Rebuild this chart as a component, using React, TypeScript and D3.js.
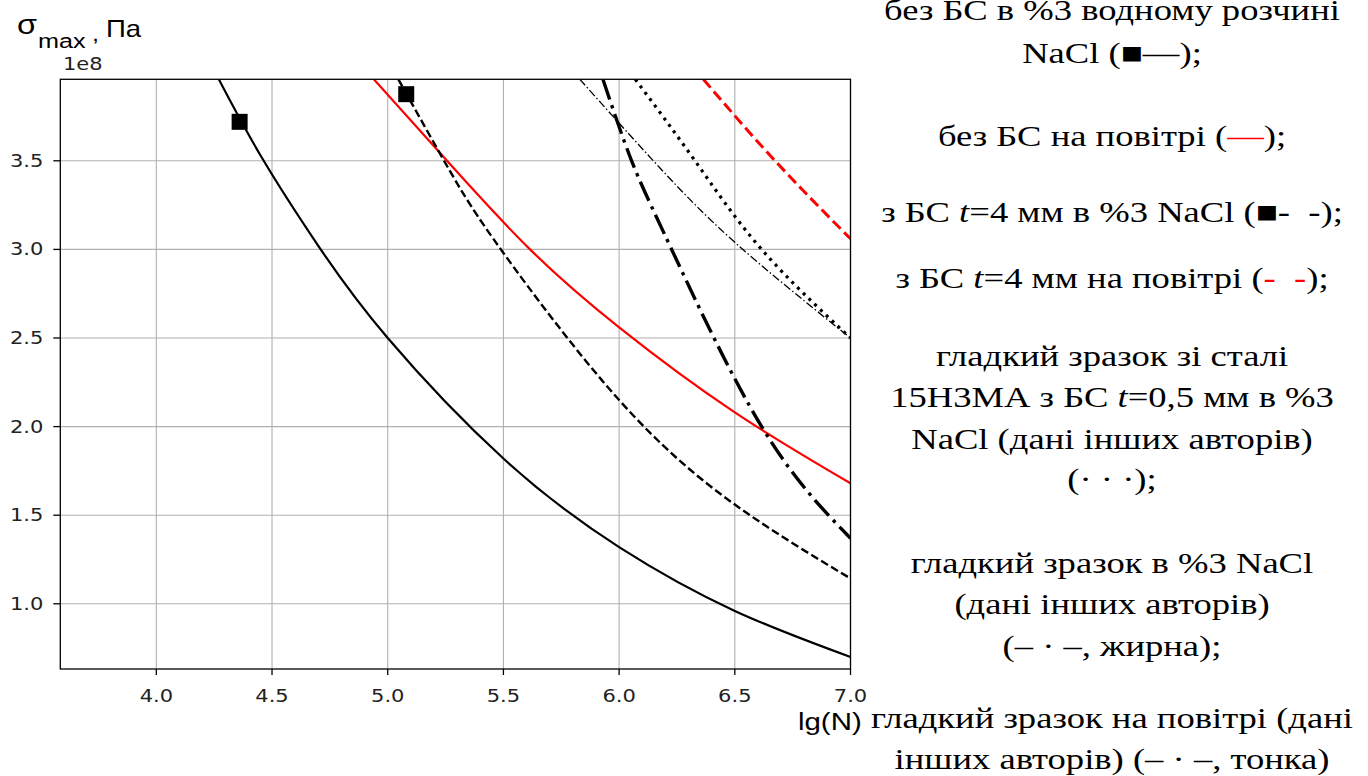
import React from 'react';
import * as d3 from 'd3';

// ---------- data (σ in units of 1e8 Pa, x = lg N) ----------
const xTicks = [4.0, 4.5, 5.0, 5.5, 6.0, 6.5, 7.0];
const yTicks = [1.0, 1.5, 2.0, 2.5, 3.0, 3.5];

// без БС в 3% NaCl (black solid, markers)
const noScNaClX = [4.27, 4.455, 4.70, 5.0, 5.5, 6.0, 6.5, 7.0];
const noScNaClY = [3.96, 3.52, 3.02, 2.5, 1.82, 1.32, 0.96, 0.70];
// без БС на повітрі (red solid)
const noScAirX = [4.94, 5.27, 5.615, 6.0, 6.5, 7.0];
const noScAirY = [3.96, 3.48, 3.0, 2.56, 2.08, 1.68];
// з БС t=4 мм в 3% NaCl (black dashed, marker)
const sc4NaClX = [5.046, 5.27, 5.5, 6.0, 6.5, 7.0];
const sc4NaClY = [3.96, 3.44, 2.98, 2.15, 1.56, 1.143];
// з БС t=4 мм на повітрі (red dashed)
const sc4AirX = [6.364, 6.674, 7.0];
const sc4AirY = [3.96, 3.5, 3.06];
// 15Н3МА з БС t=0,5 мм в 3% NaCl (dotted)
const steelX = [6.07, 6.328, 6.616, 7.0];
const steelY = [3.96, 3.5, 3.0, 2.5];
// гладкий зразок в 3% NaCl (thick dash-dot)
const smoothNaClX = [5.93, 6.054, 6.227, 6.616, 7.0];
const smoothNaClY = [3.96, 3.5, 3.0, 2.0, 1.37];
// гладкий зразок на повітрі (thin dash-dot)
const smoothAirX = [5.83, 6.148, 6.5, 7.0];
const smoothAirY = [3.96, 3.5, 3.04, 2.5];
// measured points (black squares)
const markerX = [4.36, 5.08];
const markerY = [3.72, 3.876];

type Seg = { t: string; red?: boolean; it?: boolean };
const legendLines: { y: number; segs: Seg[] }[] = [
  { y: 20, segs: [{ t: 'без БС в %3 водному розчині' }] },
  { y: 63, segs: [{ t: 'NaCl (■—);' }] },
  { y: 146, segs: [{ t: 'без БС на повітрі (' }, { t: '—', red: true }, { t: ');' }] },
  { y: 222, segs: [{ t: 'з БС ' }, { t: 't', it: true }, { t: '=4 мм в %3 NaCl (■-  -);' }] },
  { y: 288, segs: [{ t: 'з БС ' }, { t: 't', it: true }, { t: '=4 мм на повітрі (' }, { t: '-  -', red: true }, { t: ');' }] },
  { y: 366, segs: [{ t: 'гладкий зразок зі сталі' }] },
  { y: 407, segs: [{ t: '15Н3МА з БС ' }, { t: 't', it: true }, { t: '=0,5 мм в %3' }] },
  { y: 449, segs: [{ t: 'NaCl (дані інших авторів)' }] },
  { y: 489, segs: [{ t: '(· · ·);' }] },
  { y: 573, segs: [{ t: 'гладкий зразок в %3 NaCl' }] },
  { y: 614, segs: [{ t: '(дані інших авторів)' }] },
  { y: 656, segs: [{ t: '(– · –, жирна);' }] },
  { y: 728, segs: [{ t: 'гладкий зразок на повітрі (дані' }] },
  { y: 769, segs: [{ t: 'інших авторів) (– · –, тонка)' }] },
];

const W = 1368;
const H = 776;
const L = 60.3, R = 850.5, T = 79.3, B = 669;
const SX = 1.2;

const x = d3.scaleLinear().domain([3.585, 7.0]).range([L, R]);
const y = d3.scaleLinear().domain([0.632, 3.96]).range([B, T]);

const line = d3
  .line<[number, number]>()
  .x((d) => x(d[0]))
  .y((d) => y(d[1]))
  .curve(d3.curveNatural);

const zip = (a: number[], b: number[]) => a.map((v, i) => [v, b[i]] as [number, number]);

const series = [
  { xs: noScNaClX, ys: noScNaClY, color: '#000', w: 2.2, dash: undefined as string | undefined },
  { xs: noScAirX, ys: noScAirY, color: '#ff0000', w: 2.2, dash: undefined },
  { xs: sc4NaClX, ys: sc4NaClY, color: '#000', w: 2.4, dash: '8,3.6' },
  { xs: sc4AirX, ys: sc4AirY, color: '#ff0000', w: 3, dash: '11,5' },
  { xs: steelX, ys: steelY, color: '#000', w: 3.2, dash: '3,5' },
  { xs: smoothNaClX, ys: smoothNaClY, color: '#000', w: 3.4, dash: '21,6,3.4,6' },
  { xs: smoothAirX, ys: smoothAirY, color: '#000', w: 1.3, dash: '8,2.5,1.5,2.5' },
];

const tickFont = "DejaVu Sans, sans-serif";
const serif = "Liberation Serif, Times New Roman, serif";
const sans = "Liberation Sans, Arial, sans-serif";

export default function App() {
  return (
    <svg width={W} height={H} style={{ position: 'absolute', left: 0, top: 0, background: '#fff' }}>
      <defs>
        <clipPath id="plot">
          <rect x={L} y={T} width={R - L} height={B - T} />
        </clipPath>
      </defs>
      <rect x={0} y={0} width={W} height={H} fill="#fff" />
      {/* grid */}
      {xTicks.map((t) => (
        <line key={'gx' + t} x1={x(t)} x2={x(t)} y1={T} y2={B} stroke="#b0b0b0" strokeWidth={1.1} />
      ))}
      {yTicks.map((t) => (
        <line key={'gy' + t} x1={L} x2={R} y1={y(t)} y2={y(t)} stroke="#b0b0b0" strokeWidth={1.1} />
      ))}
      {/* series */}
      <g clipPath="url(#plot)">
        {series.map((s, i) => (
          <path
            key={i}
            d={line(zip(s.xs, s.ys)) || ''}
            fill="none"
            stroke={s.color}
            strokeWidth={s.w}
            strokeDasharray={s.dash}
          />
        ))}
      </g>
      {markerX.map((mx, i) => (
        <rect key={'m' + i} x={x(mx) - 8} y={y(markerY[i]) - 8} width={16} height={16} fill="#000" />
      ))}
      {/* spines */}
      <rect x={L} y={T} width={R - L} height={B - T} fill="none" stroke="#000" strokeWidth={1.3} />
      {/* ticks */}
      {xTicks.map((t) => (
        <g key={'tx' + t}>
          <line x1={x(t)} x2={x(t)} y1={B} y2={B + 6} stroke="#000" strokeWidth={1.3} />
          <g transform={`translate(${x(t)},${B + 33}) scale(${SX},1)`}>
            <text textAnchor="middle" fontFamily={tickFont} fontSize={17.5} fill="#222">
              {t.toFixed(1)}
            </text>
          </g>
        </g>
      ))}
      {yTicks.map((t) => (
        <g key={'ty' + t}>
          <line x1={L - 7} x2={L} y1={y(t)} y2={y(t)} stroke="#000" strokeWidth={1.3} />
          <g transform={`translate(${L - 17},${y(t) + 6}) scale(${SX},1)`}>
            <text textAnchor="end" fontFamily={tickFont} fontSize={17.5} fill="#222">
              {t.toFixed(1)}
            </text>
          </g>
        </g>
      ))}
      {/* offset text */}
      <g transform={`translate(63,70) scale(${SX},1)`}>
        <text fontFamily={tickFont} fontSize={17.5} fill="#222">1e8</text>
      </g>
      {/* y axis label */}
      <g transform={`translate(17,34) scale(1.2,1)`}>
        <text fontFamily={sans} fontSize={27} fill="#000">σ</text>
      </g>
      <g transform={`translate(38,48) scale(1.2,1)`}>
        <text fontFamily={sans} fontSize={21} fill="#000">max</text>
      </g>
      <g transform={`translate(92,41) scale(1.2,1)`}>
        <text fontFamily={sans} fontSize={21} fill="#000">,</text>
      </g>
      <g transform={`translate(106,37) scale(1.2,1)`}>
        <text fontFamily={sans} fontSize={23} fill="#000">Па</text>
      </g>
      {/* x axis label */}
      <g transform={`translate(798,730) scale(1.2,1)`}>
        <text fontFamily={sans} fontSize={24.5} fill="#000">lg(N)</text>
      </g>
      {/* legend text */}
      {legendLines.map((ln, i) => (
        <g key={'lg' + i} transform={`translate(1112,${ln.y}) scale(1.22,1)`}>
          <text textAnchor="middle" fontFamily={serif} fontSize={30} fill="#000" style={{ whiteSpace: 'pre' }}>
            {ln.segs.map((s, j) => (
              <tspan key={j} fill={s.red ? '#ff0000' : '#000'} fontStyle={s.it ? 'italic' : 'normal'}>
                {s.t}
              </tspan>
            ))}
          </text>
        </g>
      ))}
    </svg>
  );
}
